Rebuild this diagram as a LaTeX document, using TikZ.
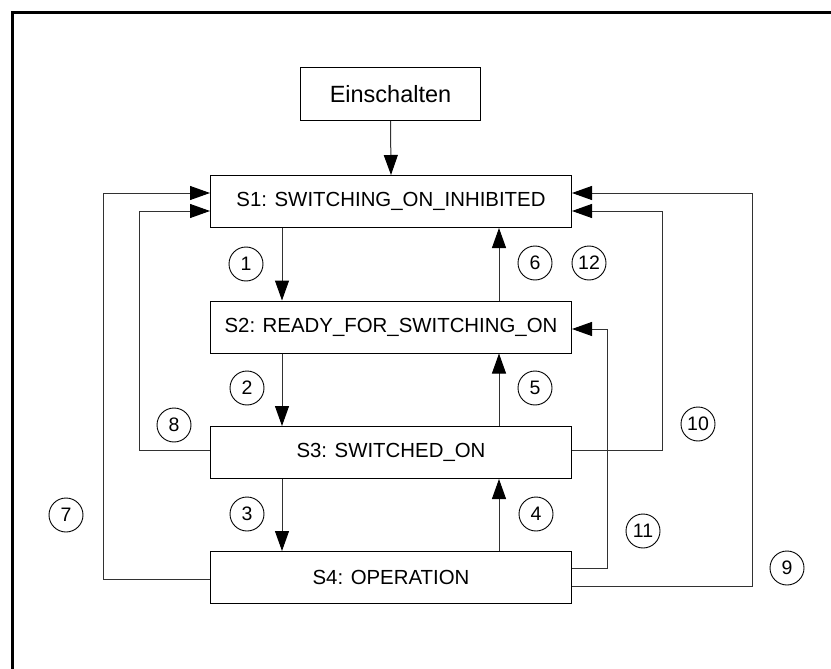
\documentclass[tikz,border=0pt]{standalone}
\usepackage{fontspec}
\setmainfont{Liberation Sans}
\usetikzlibrary{arrows.meta}
\definecolor{connc}{RGB}{50,50,50}
\begin{document}
\begin{tikzpicture}[x=1pt,y=-1pt,
  statebox/.style={draw=black,line width=1pt,rectangle,inner sep=0pt,minimum width=361pt,minimum height=52pt,font=\fontsize{20.4}{24}\selectfont},
  startbox/.style={draw=black,line width=1pt,rectangle,inner sep=0pt,minimum width=180pt,minimum height=53pt,font=\fontsize{23.5}{28}\selectfont},
  num/.style={draw=black,line width=0.9pt,circle,inner sep=0pt,minimum size=34pt,font=\fontsize{19.5}{22}\selectfont},
  conn/.style={draw=connc,line width=1pt,-{Triangle[length=20pt,width=14pt,fill=black,color=black]}},
  frameline/.style={line width=3pt,black}]
\useasboundingbox (0,0) rectangle (831,669);
% frame
\coordinate (ftl) at (12,13);
\coordinate (ftr) at (831,13);
\coordinate (fbl) at (12,669);
\draw[frameline] (ftr) -- (ftl) -- (fbl);
% nodes
\node[startbox] (E) at (390.5,94) {Einschalten};
\node[statebox] (S1) at (391,201.5) {S1: SWITCHING\_ON\_INHIBITED};
\node[statebox] (S2) at (391,327) {S2: READY\_FOR\_SWITCHING\_ON};
\node[statebox] (S3) at (391,452.5) {S3: SWITCHED\_ON};
\node[statebox] (S4) at (391,577.5) {S4: OPERATION};
% numbers
\node[num] (n1) at (246,264) {1};
\node[num] (n2) at (247,388) {2};
\node[num] (n3) at (247,514) {3};
\node[num] (n4) at (536,514) {4};
\node[num] (n5) at (535,388) {5};
\node[num] (n6) at (535,263) {6};
\node[num] (n7) at (66,515) {7};
\node[num] (n8) at (174,425) {8};
\node[num] (n9) at (787,568) {9};
\node[num] (n10) at (698,424) {10};
\node[num] (n11) at (643,531) {11};
\node[num] (n12) at (589,263) {12};
% vertical connectors
\draw[conn] (E.south) -- (S1.north);
\draw[conn] ([xshift=-109pt]S1.south) -- ([xshift=-109pt]S2.north);
\draw[conn] ([xshift=108pt]S2.north) -- ([xshift=108pt]S1.south);
\draw[conn] ([xshift=-109pt]S2.south) -- ([xshift=-109pt]S3.north);
\draw[conn] ([xshift=108pt]S3.north) -- ([xshift=108pt]S2.south);
\draw[conn] ([xshift=-109pt]S3.south) -- ([xshift=-109pt]S4.north);
\draw[conn] ([xshift=108pt]S4.north) -- ([xshift=108pt]S3.south);
% left loops
\draw[conn] (S4.west |- 0,579) -- (103,579) |- (S1.west |- 0,193);
\draw[conn] (S3.west |- 0,450) -- (139,450) |- (S1.west |- 0,211);
% right loops
\draw[conn] (S4.east |- 0,586) -- (752,586) |- (S1.east |- 0,193);
\draw[conn] (S3.east |- 0,450) -- (662,450) |- (S1.east |- 0,211);
\draw[conn] (S4.east |- 0,568) -- (607,568) |- (S2.east |- 0,329);
\end{tikzpicture}
\end{document}
